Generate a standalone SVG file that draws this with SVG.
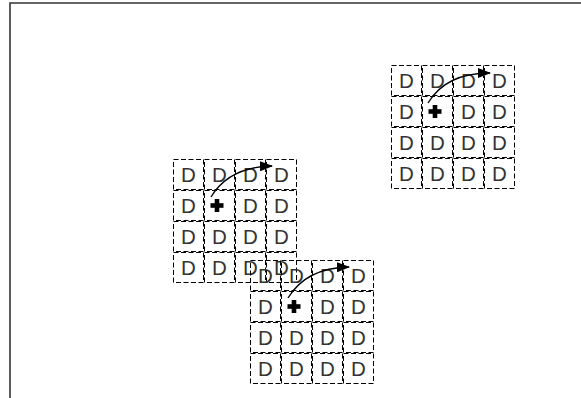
<svg xmlns="http://www.w3.org/2000/svg" width="581" height="398" viewBox="0 0 581 398">
  <defs>
    <style>
      .cell { fill: none; stroke: #000; stroke-width: 1; stroke-dasharray: 5 2.5; }
      .d { font-family: "Liberation Sans", Arial, sans-serif; font-size: 20.5px; fill: #333; text-anchor: middle; }
      .frame { stroke: #333; stroke-width: 1.6; fill: none; }
      .arrow { fill: none; stroke: #000; stroke-width: 1.3; marker-end: url(#ah); }
      .cross { fill: #000; }
    </style>
    <marker id="ah" markerUnits="userSpaceOnUse" markerWidth="14" markerHeight="10" refX="12" refY="5" orient="auto">
      <path d="M0,0 L13,5 L0,10 Z" fill="#000"/>
    </marker>
    <g id="grid">
      <rect class="cell" x="0.5" y="0.5" width="30" height="30"/>
      <rect class="cell" x="31.5" y="0.5" width="30" height="30"/>
      <rect class="cell" x="62.5" y="0.5" width="30" height="30"/>
      <rect class="cell" x="93.5" y="0.5" width="30" height="30"/>
      <rect class="cell" x="0.5" y="31.5" width="30" height="30"/>
      <rect class="cell" x="31.5" y="31.5" width="30" height="30"/>
      <rect class="cell" x="62.5" y="31.5" width="30" height="30"/>
      <rect class="cell" x="93.5" y="31.5" width="30" height="30"/>
      <rect class="cell" x="0.5" y="62.5" width="30" height="30"/>
      <rect class="cell" x="31.5" y="62.5" width="30" height="30"/>
      <rect class="cell" x="62.5" y="62.5" width="30" height="30"/>
      <rect class="cell" x="93.5" y="62.5" width="30" height="30"/>
      <rect class="cell" x="0.5" y="93.5" width="30" height="30"/>
      <rect class="cell" x="31.5" y="93.5" width="30" height="30"/>
      <rect class="cell" x="62.5" y="93.5" width="30" height="30"/>
      <rect class="cell" x="93.5" y="93.5" width="30" height="30"/>
      <rect class="cross" x="37.5" y="44.2" width="13" height="4.6"/>
      <rect class="cross" x="41.7" y="40" width="4.6" height="13"/>
    </g>
  </defs>

  <g id="frame">
    <path class="frame" d="M10,398 L10,3 L581,3"/>
  </g>

  <g id="grid1" transform="translate(391,65)">
    <use href="#grid"/>
    <text class="d" x="15.5" y="22.5">D</text><text class="d" x="46.5" y="22.5">D</text><text class="d" x="77.5" y="22.5">D</text><text class="d" x="108.5" y="22.5">D</text>
    <text class="d" x="15.5" y="53.5">D</text><text class="d" x="77.5" y="53.5">D</text><text class="d" x="108.5" y="53.5">D</text>
    <text class="d" x="15.5" y="84.5">D</text><text class="d" x="46.5" y="84.5">D</text><text class="d" x="77.5" y="84.5">D</text><text class="d" x="108.5" y="84.5">D</text>
    <text class="d" x="15.5" y="115.5">D</text><text class="d" x="46.5" y="115.5">D</text><text class="d" x="77.5" y="115.5">D</text><text class="d" x="108.5" y="115.5">D</text>
  </g>

  <g id="grid2" transform="translate(173,159)">
    <use href="#grid"/>
    <text class="d" x="15.5" y="22.5">D</text><text class="d" x="46.5" y="22.5">D</text><text class="d" x="77.5" y="22.5">D</text><text class="d" x="108.5" y="22.5">D</text>
    <text class="d" x="15.5" y="53.5">D</text><text class="d" x="77.5" y="53.5">D</text><text class="d" x="108.5" y="53.5">D</text>
    <text class="d" x="15.5" y="84.5">D</text><text class="d" x="46.5" y="84.5">D</text><text class="d" x="77.5" y="84.5">D</text><text class="d" x="108.5" y="84.5">D</text>
    <text class="d" x="15.5" y="115.5">D</text><text class="d" x="46.5" y="115.5">D</text><text class="d" x="77.5" y="115.5">D</text><text class="d" x="108.5" y="115.5">D</text>
  </g>

  <g id="grid3" transform="translate(250,260)">
    <use href="#grid"/>
    <text class="d" x="15.5" y="22.5">D</text><text class="d" x="46.5" y="22.5">D</text><text class="d" x="77.5" y="22.5">D</text><text class="d" x="108.5" y="22.5">D</text>
    <text class="d" x="15.5" y="53.5">D</text><text class="d" x="77.5" y="53.5">D</text><text class="d" x="108.5" y="53.5">D</text>
    <text class="d" x="15.5" y="84.5">D</text><text class="d" x="46.5" y="84.5">D</text><text class="d" x="77.5" y="84.5">D</text><text class="d" x="108.5" y="84.5">D</text>
    <text class="d" x="15.5" y="115.5">D</text><text class="d" x="46.5" y="115.5">D</text><text class="d" x="77.5" y="115.5">D</text><text class="d" x="108.5" y="115.5">D</text>
  </g>

  <g id="connectors">
    <path class="arrow" d="M428,103 Q446,73 490,73"/>
    <path class="arrow" d="M211,197 Q229,167 272,166"/>
    <path class="arrow" d="M288,298 Q306,268 349,267"/>
  </g>
</svg>
